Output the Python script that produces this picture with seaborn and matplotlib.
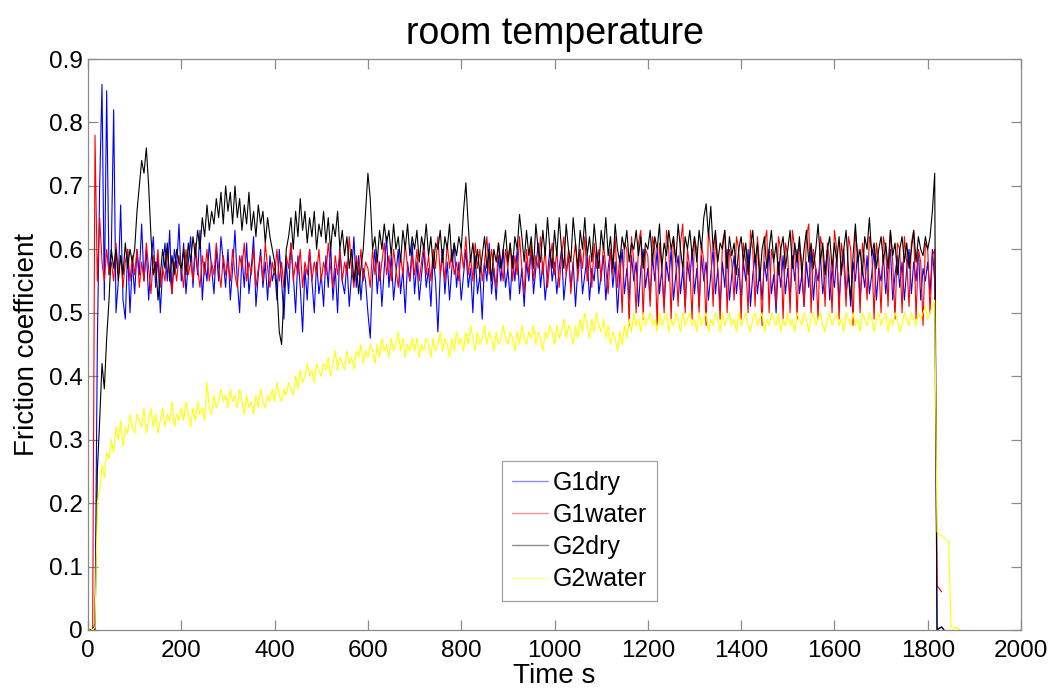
import numpy as np
import pandas as pd
import matplotlib
matplotlib.use("Agg")
import matplotlib.pyplot as plt
from matplotlib.lines import Line2D
import seaborn as sns

# ---------------- data (friction coefficient, sampled every 5 s) ----------------
sample_step = 5  # seconds between samples

g1dry_rows = [
    [0, 0, 0, .01, .45, .7, .86, .52, .85, .56, .6, .82, .5, .55, .67, .52, .49, .6, .5, .58],
    [.53, .6, .56, .64, .55, .6, .52, .58, .62, .54, .59, .5, .57, .61, .55, .63, .53, .6, .57, .64],
    [.55, .61, .53, .58, .62, .54, .6, .56, .63, .52, .58, .55, .61, .57, .53, .6, .55, .62, .58, .54],
    [.6, .52, .57, .63, .55, .5, .59, .54, .61, .53, .57, .62, .51, .56, .6, .54, .58, .52, .59, .55],
    [.57, .52, .6, .55, .49, .58, .53, .61, .56, .5, .59, .54, .47, .57, .52, .6, .55, .5, .58, .53],
    [.56, .51, .59, .54, .61, .52, .57, .5, .6, .55, .53, .58, .51, .56, .62, .54, .59, .52, .57, .55],
    [.5, .46, .56, .6, .53, .58, .51, .57, .62, .54, .59, .52, .56, .6, .53, .57, .5, .58, .55, .61],
    [.53, .58, .52, .56, .6, .54, .57, .51, .59, .55, .47, .56, .6, .53, .58, .52, .57, .61, .54, .58],
    [.52, .56, .6, .54, .57, .5, .59, .53, .56, .49, .58, .55, .61, .53, .57, .52, .59, .55, .6, .54],
    [.57, .52, .59, .55, .6, .53, .57, .51, .58, .55, .6, .53, .57, .61, .54, .58, .52, .56, .6, .55],
    [.58, .53, .57, .6, .52, .56, .59, .54, .58, .51, .57, .6, .53, .56, .59, .52, .57, .55, .6, .53],
    [.56, .59, .52, .57, .6, .54, .58, .5, .56, .6, .53, .57, .52, .59, .55, .58, .51, .57, .6, .54],
    [.57, .52, .59, .55, .6, .53, .57, .51, .58, .55, .6, .52, .56, .59, .53, .57, .51, .58, .55, .6],
    [.53, .57, .51, .59, .55, .58, .52, .56, .6, .53, .57, .51, .58, .54, .6, .52, .56, .59, .53, .57],
    [.52, .58, .55, .6, .51, .56, .59, .53, .57, .52, .58, .55, .6, .53, .56, .5, .58, .54, .59, .53],
    [.57, .52, .59, .55, .6, .53, .56, .51, .58, .54, .6, .52, .57, .55, .59, .53, .56, .6, .52, .57],
    [.54, .59, .52, .57, .6, .53, .56, .51, .58, .55, .6, .52, .57, .54, .59, .53, .56, .6, .52, .57],
    [.55, .59, .53, .57, .6, .52, .56, .59, .54, .58, .52, .57, .6, .53, .58, .55, .6, .52, .57, .55],
    [.58, .53, .6, .55, 0, .003, .004, 0],
]

g1water_rows = [
    [0, 0, 0, .78, .55, .65, .58, .55, .6, .56, .58, .55, .61, .56, .59, .54, .58, .6, .55, .59],
    [.56, .6, .54, .58, .55, .61, .57, .53, .59, .56, .6, .54, .57, .55, .6, .56, .53, .58, .55, .59],
    [.57, .54, .6, .56, .58, .55, .61, .57, .54, .59, .56, .6, .55, .58, .56, .61, .57, .54, .59, .56],
    [.58, .55, .6, .56, .54, .59, .57, .61, .55, .58, .56, .6, .54, .57, .59, .55, .61, .57, .54, .58],
    [.56, .6, .55, .58, .54, .59, .57, .61, .55, .58, .56, .6, .54, .58, .56, .6, .55, .58, .56, .6],
    [.55, .58, .56, .61, .57, .54, .59, .56, .6, .55, .58, .56, .62, .57, .54, .59, .56, .6, .55, .58],
    [.57, .54, .6, .56, .59, .55, .58, .61, .56, .59, .55, .6, .57, .54, .59, .56, .61, .57, .55, .59],
    [.56, .6, .55, .58, .61, .56, .59, .55, .6, .57, .62, .56, .59, .55, .61, .57, .6, .56, .58, .55],
    [.6, .57, .62, .56, .59, .55, .61, .57, .6, .55, .58, .62, .56, .6, .57, .54, .61, .58, .55, .6],
    [.57, .61, .55, .59, .56, .62, .57, .53, .6, .56, .61, .55, .59, .57, .62, .56, .6, .54, .58, .61],
    [.56, .6, .54, .59, .62, .56, .6, .53, .58, .61, .55, .6, .57, .62, .55, .59, .54, .61, .57, .6],
    [.55, .61, .57, .53, .6, .56, .62, .54, .59, .5, .61, .6, .48, .62, .58, .5, .61, .63, .49, .6],
    [.59, .51, .62, .6, .48, .61, .57, .5, .63, .6, .49, .62, .58, .51, .61, .64, .5, .6, .57, .49],
    [.62, .6, .5, .61, .58, .48, .63, .6, .51, .62, .57, .49, .61, .63, .5, .6, .58, .52, .62, .6],
    [.49, .61, .58, .5, .63, .6, .51, .62, .57, .48, .61, .63, .5, .6, .58, .51, .62, .6, .49, .61],
    [.59, .5, .63, .6, .49, .61, .58, .51, .62, .64, .5, .6, .57, .49, .62, .6, .51, .61, .58, .5],
    [.63, .6, .49, .61, .58, .51, .62, .6, .48, .63, .59, .5, .61, .58, .52, .62, .6, .49, .61, .58],
    [.5, .62, .6, .51, .63, .58, .49, .61, .6, .5, .62, .58, .51, .61, .63, .49, .6, .58, .48, .61],
    [.6, .5, .59, .6, .07, .065, .06],
]

g2dry_rows = [
    [0, 0, 0, 0, .25, .33, .42, .38, .46, .52, .6, .57, .6, .55, .59, .56, .61, .57, .6, .58],
    [.6, .66, .7, .74, .72, .76, .7, .62, .56, .58, .52, .56, .6, .57, .61, .55, .59, .56, .6, .58],
    [.57, .6, .56, .61, .58, .62, .59, .63, .6, .65, .62, .67, .63, .66, .64, .68, .65, .69, .64, .7],
    [.66, .69, .64, .7, .65, .68, .63, .67, .64, .69, .63, .66, .62, .67, .64, .66, .61, .65, .62, .6],
    [.58, .54, .47, .45, .53, .6, .62, .65, .6, .66, .62, .68, .63, .66, .61, .65, .62, .66, .6, .64],
    [.62, .66, .61, .65, .6, .64, .62, .66, .6, .63, .59, .62, .57, .6, .55, .58, .53, .57, .6, .66],
    [.72, .68, .6, .62, .58, .63, .6, .64, .61, .63, .59, .64, .6, .62, .58, .63, .6, .64, .59, .62],
    [.6, .63, .58, .62, .6, .64, .59, .62, .57, .61, .6, .63, .58, .62, .6, .64, .58, .61, .59, .62],
    [.6, .66, .705, .64, .58, .61, .57, .6, .56, .59, .62, .57, .6, .55, .6, .58, .61, .57, .6, .63],
    [.58, .61, .57, .62, .6, .655, .62, .58, .63, .59, .62, .57, .64, .6, .58, .63, .59, .65, .6, .57],
    [.63, .59, .65, .6, .57, .64, .6, .58, .65, .61, .57, .63, .6, .65, .59, .62, .58, .64, .6, .57],
    [.63, .6, .65, .59, .62, .57, .64, .6, .58, .62, .6, .63, .58, .61, .6, .63, .59, .62, .57, .61],
    [.6, .63, .58, .62, .6, .64, .57, .61, .59, .63, .6, .62, .58, .64, .6, .57, .62, .6, .63, .59],
    [.62, .58, .63, .6, .65, .672, .62, .668, .6, .63, .58, .61, .6, .63, .57, .62, .59, .61, .56, .6],
    [.62, .58, .61, .56, .6, .63, .58, .61, .55, .6, .62, .57, .6, .63, .58, .61, .56, .6, .62, .57],
    [.6, .63, .57, .61, .58, .62, .56, .6, .63, .58, .61, .57, .6, .64, .58, .61, .56, .6, .62, .57],
    [.61, .58, .62, .56, .6, .63, .57, .52, .59, .64, .58, .6, .56, .62, .6, .65, .59, .61, .57, .6],
    [.62, .58, .61, .57, .63, .59, .61, .56, .6, .62, .58, .61, .57, .6, .63, .58, .62, .6, .59, .62],
    [.6, .62, .66, .72, 0, .003, .005, 0],
]

g2water_rows = [
    [0, .003, 0, .005, .2, .22, .26, .24, .28, .27, .3, .28, .32, .3, .33, .29, .32, .31, .34, .32],
    [.31, .34, .33, .32, .35, .31, .33, .35, .32, .34, .31, .33, .35, .32, .34, .33, .36, .32, .34, .33],
    [.35, .33, .36, .34, .32, .35, .33, .36, .34, .35, .33, .39, .35, .34, .37, .35, .36, .38, .36, .37],
    [.35, .38, .36, .37, .35, .38, .36, .34, .37, .35, .36, .34, .37, .35, .38, .36, .35, .37, .36, .38],
    [.36, .39, .37, .36, .38, .37, .39, .38, .37, .4, .38, .41, .39, .4, .42, .4, .41, .39, .42, .41],
    [.4, .42, .41, .43, .4, .42, .44, .41, .43, .42, .41, .44, .42, .43, .41, .44, .43, .45, .42, .44],
    [.43, .45, .44, .42, .45, .43, .46, .44, .45, .43, .46, .44, .45, .47, .44, .46, .43, .45, .44, .46],
    [.44, .46, .43, .45, .44, .46, .45, .43, .46, .44, .45, .47, .44, .46, .45, .43, .46, .44, .47, .45],
    [.46, .44, .47, .45, .48, .46, .44, .47, .45, .46, .48, .45, .47, .46, .44, .47, .45, .46, .48, .46],
    [.45, .47, .46, .44, .47, .45, .48, .46, .45, .47, .46, .48, .45, .47, .46, .44, .47, .46, .48, .47],
    [.45, .48, .46, .47, .49, .46, .48, .47, .45, .48, .46, .49, .47, .5, .48, .46, .49, .47, .5, .48],
    [.47, .49, .46, .48, .45, .47, .46, .44, .47, .45, .48, .46, .49, .47, .5, .48, .49, .47, .5, .48],
    [.49, .5, .48, .49, .47, .5, .48, .49, .5, .47, .49, .48, .5, .49, .47, .5, .48, .49, .5, .48],
    [.49, .47, .5, .48, .49, .5, .47, .49, .48, .5, .49, .47, .5, .48, .49, .5, .48, .49, .47, .5],
    [.48, .49, .5, .48, .47, .49, .5, .48, .49, .5, .47, .49, .48, .5, .49, .48, .5, .47, .49, .48],
    [.5, .48, .49, .47, .5, .49, .48, .5, .49, .47, .49, .5, .48, .49, .5, .48, .47, .49, .5, .48],
    [.49, .5, .48, .49, .47, .5, .49, .48, .5, .48, .49, .47, .5, .49, .48, .5, .49, .47, .49, .5],
    [.48, .49, .5, .47, .49, .48, .5, .49, .47, .48, .5, .49, .48, .5, .49, .48, .5, .49, .5, .51],
    [.49, .5, .51, .52, .155, .15, .148, .145, .142, .14, .005, .003, .004, .002, 0],
]

series_names = ["G1dry", "G1water", "G2dry", "G2water"]
series_colors = ["#0000ff", "#ff0000", "#000000", "#ffff00"]

x_ticks = [0, 200, 400, 600, 800, 1000, 1200, 1400, 1600, 1800, 2000]
y_ticks = [0, 0.1, 0.2, 0.3, 0.4, 0.5, 0.6, 0.7, 0.8, 0.9]
y_tick_labels = ["0", "0.1", "0.2", "0.3", "0.4", "0.5", "0.6", "0.7", "0.8", "0.9"]

title_text = "room temperature"
x_label = "Time s"
y_label = "Friction coefficient"

# ---------------- build long table ----------------
all_rows = [g1dry_rows, g1water_rows, g2dry_rows, g2water_rows]
bad = [(n, i, len(r)) for n, rows in zip(series_names, all_rows)
       for i, r in enumerate(rows[:-1]) if len(r) != 20]
assert not bad, f"bad rows: {bad}"

frames = []
for name, rows in zip(series_names, all_rows):
    vals = np.array([v for r in rows for v in r], dtype=float)
    t = sample_step * np.arange(len(vals))
    frames.append(pd.DataFrame({"Time": t, "mu": vals, "series": name}))
df = pd.concat(frames, ignore_index=True)

# ---------------- plot ----------------
sns.set_theme(style="white")
plt.rcParams["font.family"] = ["Liberation Sans", "DejaVu Sans"]
plt.rcParams["text.color"] = "black"
plt.rcParams["axes.labelcolor"] = "black"

fig = plt.figure(figsize=(10.54, 6.92), dpi=100)
ax = fig.add_axes([0.0835, 0.0896, 0.8852, 0.8251])

sns.lineplot(data=df, x="Time", y="mu", hue="series", hue_order=series_names,
             palette=dict(zip(series_names, series_colors)), estimator=None,
             sort=False, linewidth=0.8, legend=False, ax=ax)

ax.set_xlim(0, 2000)
ax.set_ylim(0, 0.9)
ax.set_xticks(x_ticks)
ax.set_xticklabels([str(v) for v in x_ticks])
ax.set_yticks(y_ticks)
ax.set_yticklabels(y_tick_labels)

gray = "#8a8a8a"
for sp in ax.spines.values():
    sp.set_color(gray)
    sp.set_linewidth(0.9)
    sp.set_visible(True)
ax.tick_params(axis="both", which="major", direction="in", length=7, width=0.9,
               color=gray, labelcolor="black", labelsize=17.5,
               top=True, right=True, bottom=True, left=True)
ax.tick_params(axis="x", pad=7)
ax.tick_params(axis="y", pad=4)

ax.set_title(title_text, fontsize=27, pad=11, color="black")
ax.set_xlabel(x_label, fontsize=20, labelpad=1, color="black")
ax.set_ylabel(y_label, fontsize=20, labelpad=6, color="black")

handles = [Line2D([0], [0], color=c, lw=1.0, alpha=0.45) for c in series_colors]
leg = ax.legend(handles, series_names, loc="lower left", bbox_to_anchor=(0.444, 0.051),
                borderaxespad=0, frameon=True, fancybox=False, fontsize=18,
                handlelength=1.45, handletextpad=0.2, labelspacing=0.33, borderpad=0.38)
leg.get_frame().set_edgecolor(gray)
leg.get_frame().set_linewidth(0.9)
for txt in leg.get_texts():
    txt.set_color("black")

fig.savefig("out.png", dpi=100)
